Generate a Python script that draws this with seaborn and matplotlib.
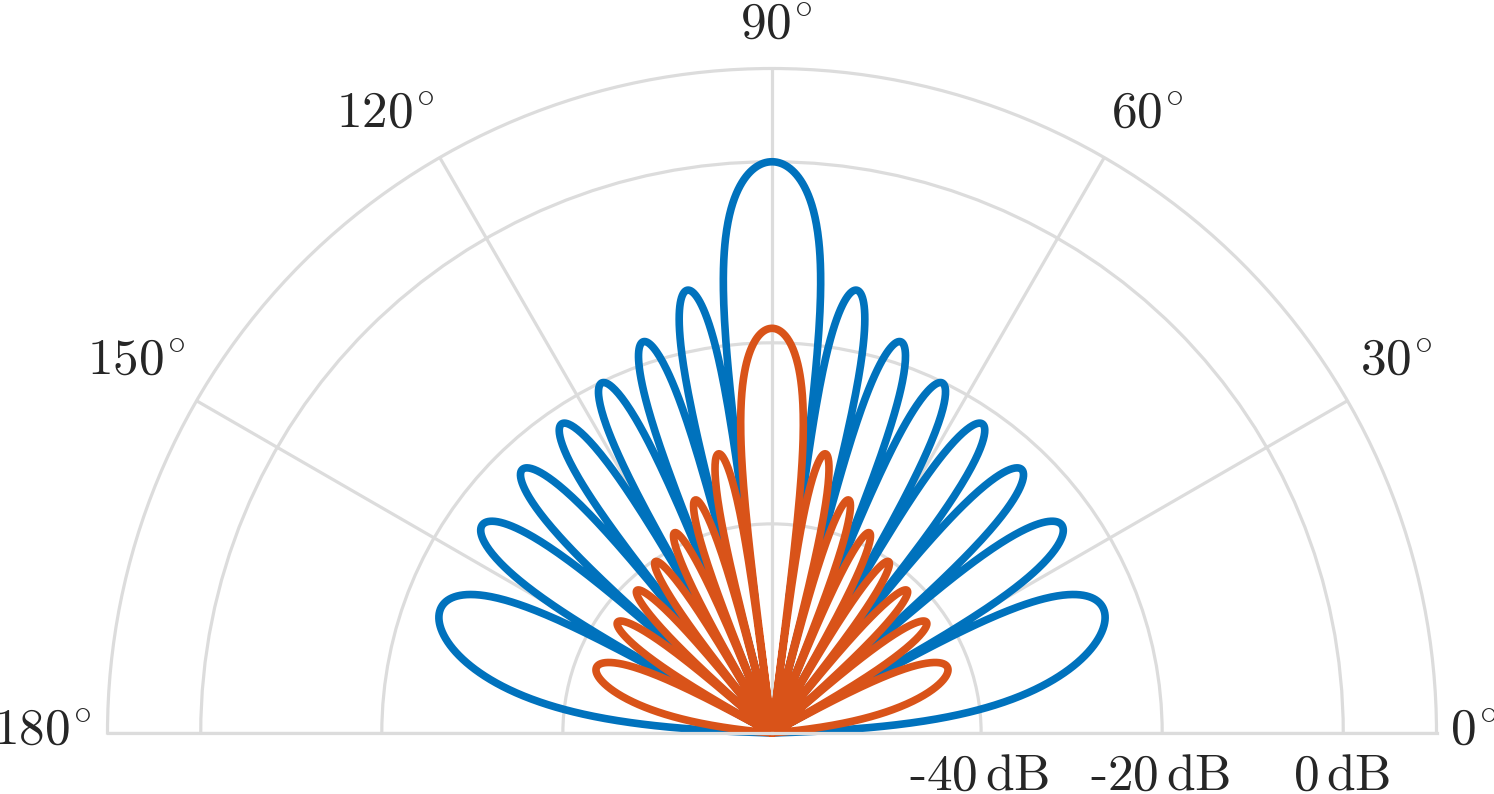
import numpy as np
import pandas as pd
import matplotlib
matplotlib.use("Agg")
import matplotlib.pyplot as plt
import seaborn as sns

# ---------------- data ----------------
# Directions of the pattern nulls (lobe boundaries), degrees; shared by both patterns
NULL_ANGLES_DEG = [0.0, 29.0, 41.4, 51.3, 60.0, 68.0, 75.5, 82.8,
                   97.2, 104.5, 112.0, 120.0, 128.7, 138.6, 151.0, 180.0]
# Peak level of each lobe (dB), ordered from 0 deg to 180 deg
BLUE_PEAK_DB = [-24.0, -23.7, -23.0, -21.8, -20.1, -17.6, -13.3, 0.0,
                -13.3, -17.6, -20.1, -21.8, -23.0, -23.7, -24.0]
ORANGE_PEAK_DB = [-42.4, -42.1, -41.4, -40.2, -38.5, -36.0, -31.7, -18.4,
                  -31.7, -36.0, -38.5, -40.2, -41.4, -42.1, -42.4]
SERIES = ["pattern 1", "pattern 2"]
COLORS = ["#0072BD", "#D95319"]

THETA_TICKS = [0, 30, 60, 90, 120, 150, 180]
THETA_LABELS = [r"$0^{\!\circ}$", r"$30^{\!\circ}$", r"$60^{\!\circ}$", r"$90^{\!\circ}$",
                r"$120^{\!\circ}$", r"$150^{\!\circ}$", r"$180^{\!\circ}$"]
R_TICKS = [-40, -20, 0]
R_LABELS = [r"-40$\,$dB", r"-20$\,$dB", r"0$\,$dB"]
R_LIM = [-63.1, 10.3]

# ---------------- lobe outlines ----------------
def lobe_outline(nulls_deg, peaks_db, rmin, n=2400):
    nulls = np.deg2rad(np.asarray(nulls_deg))
    th = np.linspace(nulls[0], nulls[-1], n)
    idx = np.clip(np.searchsorted(nulls, th, side="right") - 1, 0, len(peaks_db) - 1)
    ua = np.cos(nulls[idx])
    ub = np.cos(nulls[idx + 1])
    t = (np.cos(th) - ua) / (ub - ua)
    amp = 10 ** (np.asarray(peaks_db)[idx] / 20.0) * np.abs(np.sin(np.pi * t))
    db = 20 * np.log10(np.maximum(amp, 1e-12))
    return th, np.maximum(db, rmin)

frames = []
for name, peaks in zip(SERIES, [BLUE_PEAK_DB, ORANGE_PEAK_DB]):
    th, db = lobe_outline(NULL_ANGLES_DEG, peaks, R_LIM[0])
    frames.append(pd.DataFrame({"theta": th, "level": db, "series": name}))
df = pd.concat(frames, ignore_index=True)

# ---------------- figure ----------------
sns.set_theme(style="white")
plt.rcParams["font.family"] = ["cmr10", "DejaVu Serif"]
plt.rcParams["mathtext.fontset"] = "cm"
plt.rcParams["axes.unicode_minus"] = False

W, H = 1494, 794
fig = plt.figure(figsize=(W / 100, H / 100), dpi=100)
# square box: the half disc (radius = side/2) is centred in it
side = 1329.0
cx, cy = 772.0, 393.25
ax = fig.add_axes([(cx - side / 2) / W, (cy - side / 2) / H, side / W, side / H],
                  projection="polar")
ax.set_thetamin(0)
ax.set_thetamax(180)
ax.set_ylim(R_LIM)

GRID = "#DCDCDC"
ax.set_xticks(np.deg2rad(THETA_TICKS))
ax.set_xticklabels([])
ax.set_yticks(R_TICKS)
ax.set_yticklabels([])
ax.grid(True, color=GRID, linewidth=2.3)
ax.tick_params(length=0)
for s in ax.spines.values():
    s.set_color(GRID)
    s.set_linewidth(2.3)

sns.lineplot(data=df, x="theta", y="level", hue="series", hue_order=SERIES,
             palette=COLORS, sort=False, estimator=None, linewidth=5.5,
             legend=False, ax=ax)
for ln in ax.lines:
    ln.set_solid_joinstyle("round")
    ln.set_solid_capstyle("round")
    ln.set_clip_on(False)
ax.set_xlabel("")
ax.set_ylabel("")

FS = 37
# angle labels
offsets = {0: (13, -12, "left"), 30: (49, 26, "center"), 60: (43, 30, "center"),
           90: (4, 30, "center"), 120: (-55, 30, "center"),
           150: (-60, 26, "center"), 180: (-16, -12, "right")}
for ang, lab in zip(THETA_TICKS, THETA_LABELS):
    dx, dy, ha = offsets[ang]
    ax.annotate(lab, xy=(np.deg2rad(ang), R_LIM[1]), xytext=(dx, dy),
                textcoords="offset pixels", ha=ha, va="baseline",
                fontsize=FS, color="#262626", annotation_clip=False)

# radial labels
for r, lab in zip(R_TICKS, R_LABELS):
    ax.annotate(lab, xy=(0, r), xytext=(-2, -57), textcoords="offset pixels",
                ha="center", va="baseline", fontsize=FS, color="#262626",
                annotation_clip=False)

fig.savefig("out.png", dpi=100)
